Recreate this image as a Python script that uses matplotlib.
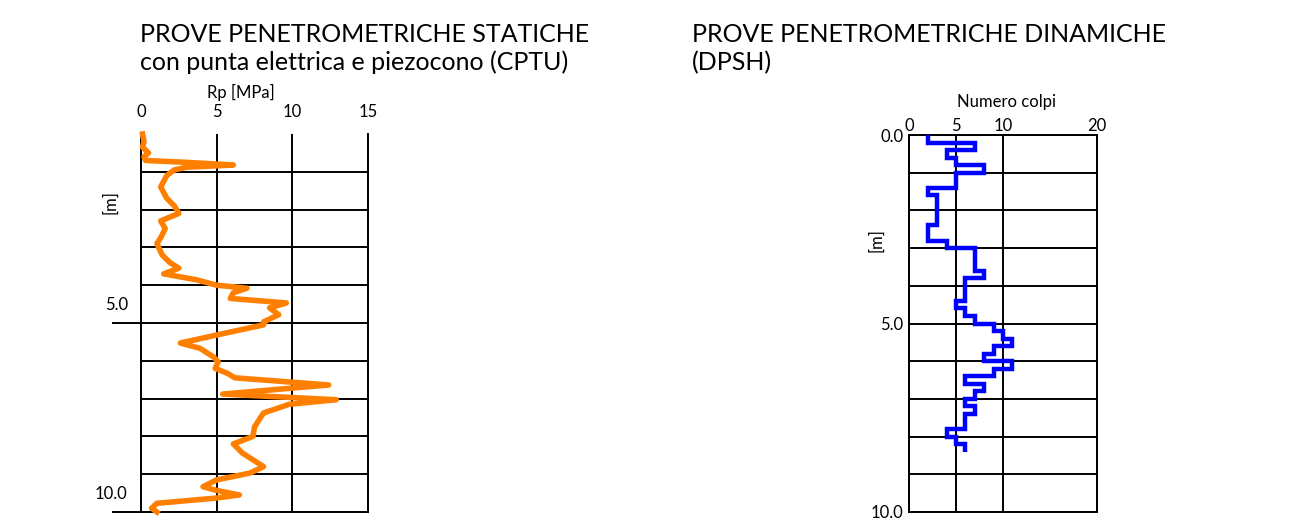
import numpy as np
import matplotlib
matplotlib.use("Agg")
import matplotlib.pyplot as plt

plt.rcParams['font.family'] = ['Lato', 'DejaVu Sans']

# CPTU: profondità [m] e resistenza alla punta Rp [MPa]
cptu_depth = [0.0, 0.2, 0.35, 0.5, 0.6, 0.7, 0.75, 0.82, 0.88, 0.95, 1.1, 1.4, 1.7, 1.9,
              2.1, 2.3, 2.5, 2.75, 2.9, 3.2, 3.4, 3.55, 3.7, 3.86, 4.0, 4.08, 4.2, 4.35,
              4.47, 4.6, 4.78, 4.97, 5.05, 5.3, 5.53, 5.67, 5.9, 6.03, 6.2, 6.33, 6.45,
              6.64, 6.88, 7.03, 7.15, 7.38, 7.5, 7.75, 8.0, 8.2, 8.44, 8.8, 8.97, 9.15,
              9.33, 9.42, 9.55, 9.63, 9.77, 9.9, 10.0]
cptu_rp = [0.1, 0.2, 0.1, 0.5, 0.2, 0.3, 3.0, 6.1, 3.0, 2.2, 1.7, 1.3, 1.7, 2.2,
           2.5, 1.3, 1.6, 1.3, 1.05, 1.4, 1.9, 2.5, 1.5, 3.7, 5.0, 7.0, 6.1, 5.9,
           9.6, 8.5, 9.1, 8.1, 8.1, 5.2, 2.6, 3.9, 4.8, 5.1, 4.9, 5.7, 6.2,
           12.4, 5.4, 12.9, 9.8, 8.1, 7.9, 7.5, 7.4, 6.1, 6.7, 8.1, 7.2, 5.0,
           4.1, 4.9, 6.5, 5.0, 1.05, 0.7, 1.05]

# DPSH: numero colpi ogni 20 cm
dpsh_edges = np.round(np.arange(0, 8.41, 0.2), 1)
dpsh_colpi = [2, 7, 4, 5, 8, 5, 5, 2, 3, 3, 3, 3, 2, 2, 4, 7, 7, 7, 8, 6, 6,
              6, 5, 6, 7, 9, 10, 11, 9, 8, 11, 9, 6, 8, 7, 6, 7, 6, 6, 4, 5, 6]

cptu_xticks = [0, 5, 10, 15]
dpsh_xticks = [0, 5, 10, 20]
grid_depths = np.arange(0, 11, 1)

fig = plt.figure(figsize=(13.02, 5.27), dpi=100)
W, H = 1302, 527

def box(x0, y0, x1, y1):
    return [x0 / W, 1 - y1 / H, (x1 - x0) / W, (y1 - y0) / H]

lw_grid = 1.4
fs = 12

# ---- CPTU ----
ax1 = fig.add_axes(box(141, 134, 368, 512))
ax1.plot(cptu_rp, cptu_depth, color='#FF8000', lw=4.0, solid_joinstyle='round', clip_on=False, zorder=3)
ax1.set_xlim(0, 15)
ax1.set_ylim(10, 0)
ax1.xaxis.tick_top()
ax1.xaxis.set_label_position('top')
ax1.set_xticks(cptu_xticks)
ax1.tick_params(axis='x', length=0, pad=10, labelsize=fs)
ax1.set_xlabel('Rp [MPa]', fontsize=fs)
ax1.xaxis.set_label_coords(0.44, 1.095)
ax1.set_yticks([5, 10])
ax1.set_yticks(grid_depths[1:-1], minor=True)
ax1.tick_params(axis='y', which='major', length=21, width=lw_grid, labelleft=False)
ax1.tick_params(axis='y', which='minor', length=0)
for v in [5, 10]:
    ax1.annotate(f"{v:.1f}", xy=(0, v), xycoords=('axes fraction', 'data'),
                 xytext=(-9.5, 13), textcoords='offset points',
                 ha='right', va='center', fontsize=fs)
ax1.set_ylabel('[m]', fontsize=fs)
ax1.yaxis.set_label_coords(-0.1, 0.82)
ax1.grid(axis='x', color='black', lw=lw_grid)
ax1.grid(axis='y', which='both', color='black', lw=lw_grid)
ax1.spines['top'].set_visible(False)
for s in ['left', 'right', 'bottom']:
    ax1.spines[s].set_linewidth(lw_grid)

# ---- DPSH ----
ax2 = fig.add_axes(box(909, 135, 1097, 512))
ax2.stairs(dpsh_colpi, dpsh_edges, orientation='horizontal', baseline=None,
           color='#0000FF', lw=3.2, zorder=3)
ax2.set_xlim(0, 20)
ax2.set_ylim(10, 0)
ax2.xaxis.tick_top()
ax2.xaxis.set_label_position('top')
ax2.set_xticks(dpsh_xticks)
ax2.tick_params(axis='x', length=0, pad=1, labelsize=fs)
ax2.set_xlabel('Numero colpi', fontsize=fs)
ax2.xaxis.set_label_coords(0.52, 1.075)
ax2.set_yticks([0, 5, 10])
ax2.set_yticklabels([f"{v:.1f}" for v in [0, 5, 10]])
ax2.set_yticks(grid_depths, minor=True)
ax2.tick_params(axis='y', which='both', length=0, pad=4, labelsize=fs)
ax2.set_ylabel('[m]', fontsize=fs)
ax2.yaxis.set_label_coords(-0.13, 0.72)
ax2.grid(axis='x', color='black', lw=lw_grid)
ax2.grid(axis='y', which='both', color='black', lw=lw_grid)
for s in ax2.spines.values():
    s.set_linewidth(lw_grid)

# ---- titoli ----
tsize = 18
fig.text(140 / W, 1 - 42 / H, 'PROVE PENETROMETRICHE STATICHE', fontsize=tsize, va='baseline')
fig.text(140 / W, 1 - 70 / H, 'con punta elettrica e piezocono (CPTU)', fontsize=tsize, va='baseline')
fig.text(692 / W, 1 - 42 / H, 'PROVE PENETROMETRICHE DINAMICHE', fontsize=tsize, va='baseline')
fig.text(692 / W, 1 - 70 / H, '(DPSH)', fontsize=tsize, va='baseline')

fig.savefig('out.png', dpi=100)
